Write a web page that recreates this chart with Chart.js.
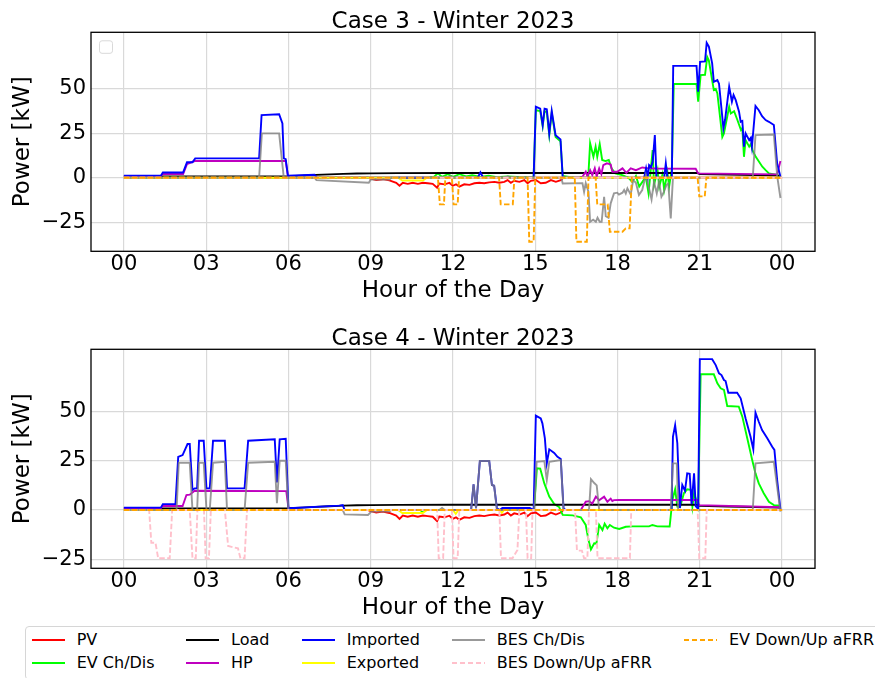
<!DOCTYPE html>
<html>
<head>
<meta charset="utf-8">
<script src="https://cdn.jsdelivr.net/npm/chart.js@4.4.1/dist/chart.umd.min.js"></script>
<style>
  html, body { margin: 0; padding: 0; background: #fff; overflow: hidden; }
  body { width: 875px; height: 678px; position: relative; font-family: "DejaVu Sans", sans-serif; }
  .plot { position: absolute; left: 0; width: 875px; height: 310px; }
  #legend { position: absolute; left: 25px; top: 626px; width: 880px; height: 52px;
            border: 1px solid #d6d6d6; border-radius: 4px; background: #fff; }
  .swatch { position: absolute; width: 33px; height: 2px; }
  .lbl { position: absolute; font-size: 16px; line-height: 20px; color: #000; white-space: nowrap; }
</style>
</head>
<body>
<div class="plot" style="top:0px"><canvas id="case3" width="875" height="310"></canvas></div>
<div class="plot" style="top:317px"><canvas id="case4" width="875" height="310"></canvas></div>
<div id="legend"></div>
<script>
// hour of day [h] and power [kW] pairs
var hourTicks = [0, 3, 6, 9, 12, 15, 18, 21, 24];
var hourLabels = ["00", "03", "06", "09", "12", "15", "18", "21", "00"];
var powerTicks = [-25, 0, 25, 50];

var names = ["PV", "EV Ch/Dis", "Load", "HP", "Imported", "Exported", "BES Ch/Dis", "BES Down/Up aFRR", "EV Down/Up aFRR"];
var colors = ["#ff0000", "#00ff00", "#000000", "#bf00bf", "#0000ff", "#ffff00", "rgba(128,128,128,0.8)", "#ffc0cb", "#ffa500"];
var dashed = [false, false, false, false, false, false, false, true, true];

// same PV and load profile for both cases
var pv = [[0,0],[8.9,0],[9.0,-0.5],[9.2,-1.3],[9.44,-0.8],[9.68,-1.5],[9.93,-2.8],[10.05,-4.5],[10.17,-2.8],[10.35,-3.4],[10.53,-2.8],[10.72,-3.4],[10.9,-2.8],[11.08,-3.1],[11.26,-3.4],[11.42,-5.6],[11.5,-3.3],[11.69,-3.7],[11.87,-2.9],[11.99,-4.5],[12.11,-3.7],[12.23,-5],[12.41,-3.7],[12.6,-4],[12.78,-3.1],[12.96,-2.8],[13.14,-3.1],[13.32,-2.6],[13.51,-2.3],[13.69,-2.8],[13.87,-2.3],[13.99,-1.3],[14.11,-2.8],[14.23,-1.7],[14.42,-2.3],[14.6,-1.3],[14.72,-3.1],[14.84,-1.7],[15.02,-1.3],[15.2,-3.1],[15.38,-2.8],[15.57,-1.3],[15.75,-2.3],[15.93,-1.3],[16.02,0],[24,0]];
var load = [[0,0.8],[6,0.9],[6.5,1.2],[7,1.6],[7.5,1.9],[8,2.2],[8.5,2.4],[9,2.5],[10,2.6],[12,2.7],[20.9,2.7],[21,2.1],[22,1.8],[23,1.5],[23.9,1.2]];

// Case 3
var ev3 = [[0,0],[11.0,0],[11.3,0.5],[11.45,2.5],[11.6,0.5],[11.81,2],[12.0,0.5],[12.23,2],[12.48,0.8],[12.7,1.5],[13.0,0.5],[13.3,1.2],[13.6,0.3],[14.0,0.8],[14.5,0.3],[14.94,0.5],[15.02,38],[15.18,37.5],[15.27,29],[15.34,37.5],[15.42,37],[15.51,24],[15.6,36.5],[15.74,23],[15.92,20.5],[16.0,1],[16.4,0],[16.93,0],[17.0,19.4],[17.12,11.8],[17.2,17.5],[17.26,11.8],[17.35,19],[17.44,10],[17.56,9.4],[17.68,10],[17.78,5.3],[17.92,2.5],[18.17,1.5],[18.4,0],[18.53,-2.2],[18.67,1],[18.79,-5],[19.03,0.5],[19.13,-8.8],[19.28,15.6],[19.33,-4],[19.46,4.3],[19.52,-5],[19.64,2],[19.7,-6.9],[19.82,3],[19.88,-5],[19.98,5],[20.05,52.8],[20.88,52.8],[20.94,42.8],[21.03,57.8],[21.19,58],[21.27,68],[21.33,66],[21.51,49.4],[21.58,50],[21.64,47.5],[21.82,23],[21.88,25],[22.07,40],[22.13,36.2],[22.25,37.5],[22.37,32.5],[22.5,26.9],[22.55,28],[22.61,11.8],[22.67,21.2],[22.8,17.5],[22.86,19],[22.92,15.6],[23.04,11.8],[23.16,9],[23.28,6.2],[23.4,4.3],[23.52,2.5],[23.77,1.8],[23.95,0.6]];
var hp3 = [[0,1],[1.35,1],[1.42,2.1],[2.16,2.1],[2.3,7.7],[2.58,9.4],[5.9,9.4],[5.98,1],[6.1,0],[16.6,0],[16.72,0.6],[16.84,3.4],[16.9,0.8],[17.0,4.3],[17.08,1.5],[17.17,5.3],[17.24,0.8],[17.33,5.3],[17.41,2],[17.48,7.1],[17.61,8.1],[17.75,7.5],[17.81,3.4],[17.99,3.4],[18.18,5.3],[18.32,2.8],[18.48,5.3],[18.67,4.3],[18.9,5.8],[19.15,5.3],[19.39,5.2],[20.85,5.1],[20.94,2.5],[23.82,1.9],[23.94,9.4]];
var imp3 = [[0,1.2],[1.35,1.2],[1.42,3],[2.16,3],[2.3,8.7],[2.5,8.7],[2.6,10.9],[4.93,10.9],[5.02,35.3],[5.66,35.8],[5.78,30.6],[5.83,10.9],[5.9,10.5],[5.98,1.1],[6.95,1.7],[7.05,0],[12.9,0],[13.0,3],[13.1,0],[14.94,0],[15.02,40],[15.18,38.9],[15.27,29.7],[15.34,38.9],[15.42,38.6],[15.51,25],[15.6,37.7],[15.74,24],[15.92,21.6],[16.0,0.5],[16.1,0],[18.97,0],[19.04,5.3],[19.1,0],[19.15,7.1],[19.22,6],[19.28,9],[19.36,24],[19.42,0],[19.7,0],[19.76,8.1],[19.82,0],[19.98,0],[20.03,63],[20.88,63],[20.94,48.4],[21.01,65.3],[21.19,65.5],[21.25,76],[21.33,73.8],[21.45,64.4],[21.51,54],[21.64,55],[21.7,53],[21.86,27.8],[21.92,32.5],[22.07,51.2],[22.17,42.8],[22.23,46.6],[22.31,43.7],[22.43,37.2],[22.49,31.5],[22.55,32],[22.61,17.5],[22.67,25],[22.8,21.2],[22.86,22.5],[22.9,17.5],[23.03,40.4],[23.15,38],[23.27,34.7],[23.4,32.5],[23.52,31.5],[23.7,29.7],[23.82,8],[23.94,0.6]];
var exp3 = [[0,0],[10.0,0],[10.15,-1.5],[10.9,-1.5],[11.05,0],[24,0]];
var bes3 = [[0,0],[4.93,0],[5.03,25],[5.66,25],[5.83,0],[6.95,0],[7.02,-1.3],[8.93,-2.8],[9.0,-1],[9.68,-1],[9.75,0],[11.8,0],[11.9,1],[12.0,0],[13.9,0],[14.0,0.8],[14.1,0],[15.95,0],[16.0,-3.2],[16.72,-3.0],[16.78,-7.9],[16.84,-3],[16.94,-7.9],[17.0,-24.8],[17.11,-23.6],[17.21,-24.8],[17.27,-22.5],[17.35,-24.8],[17.42,-24.8],[17.51,-10.7],[17.57,-21.6],[17.67,-22.5],[17.75,-14.4],[17.87,-8.8],[17.99,-8.4],[18.05,-9.5],[18.18,-8.4],[18.24,-6.9],[18.3,-8.8],[18.36,-6],[18.48,-9.5],[18.57,-1.3],[18.67,-2.8],[18.78,-9.7],[18.9,-6.9],[19.03,1.5],[19.12,-4.1],[19.24,-12.2],[19.33,-2.2],[19.43,-8.8],[19.51,-2.2],[19.6,-10.7],[19.69,-7.9],[19.78,-4.1],[19.85,-3.2],[19.94,-22.9],[20.02,0],[22.93,0],[23.03,24],[23.7,24.4],[23.82,1],[23.94,-11.4]];
var bfr3 = [[0,0],[24,0]];
var efr3 = [[0,0],[11.45,0],[11.52,-15],[11.67,-15],[11.72,0],[11.96,0],[12.02,-15],[12.17,-15],[12.22,0],[13.68,0],[13.74,-15],[14.18,-15],[14.24,0],[14.72,0],[14.78,-36],[14.94,-36],[15.0,0],[16.44,0],[16.5,-36],[16.88,-36],[16.94,0],[17.2,0],[17.26,-15],[17.64,-15],[17.72,-30.4],[18.18,-30.4],[18.3,-28.5],[18.44,-28.5],[18.52,0],[20.92,0],[20.98,-10.5],[21.18,-10.5],[21.24,0],[24,0]];

// Case 4
var ev4 = [[0,0],[10.8,0],[10.9,-1],[11.0,0],[14.95,0],[15.06,21.2],[15.18,21],[15.33,13.5],[15.51,6.8],[15.69,3],[15.87,1.5],[16.0,-2.5],[16.36,-2.7],[16.66,-3.7],[16.84,-7.6],[16.94,-15.2],[17.03,-20],[17.15,-16.9],[17.23,-17],[17.33,-7.6],[17.45,-10.2],[17.53,-7],[17.63,-9.3],[17.72,-7.6],[17.87,-9],[18.06,-9.6],[18.3,-8.5],[18.54,-8.3],[19.15,-8.3],[19.27,-7.6],[19.45,-8.3],[19.9,-8.4],[20.0,5.1],[20.1,10.5],[20.18,1.7],[20.28,1.5],[20.42,8.5],[20.54,10.5],[20.67,10.2],[20.73,1.7],[20.79,8.5],[20.87,5],[20.94,1.7],[21.03,68.9],[21.51,68.9],[21.64,64.3],[21.76,61.8],[21.88,61],[22.0,52.8],[22.42,52.5],[22.55,47.4],[22.73,36.4],[22.91,25.4],[23.03,18.6],[23.15,13.5],[23.33,8.5],[23.52,4.2],[23.7,2.5],[23.88,2.3],[23.94,0]];
var hp4 = [[0,1],[1.35,1],[1.42,2],[2.14,2],[2.28,7.6],[2.4,7.8],[2.58,9.8],[5.92,9.6],[6.0,1],[6.1,0],[16.66,0],[16.84,4.2],[16.96,4.5],[17.08,3.3],[17.21,6.8],[17.33,5],[17.51,6.8],[17.63,4.2],[17.75,5.8],[17.81,4.6],[17.87,5],[18.06,5.1],[18.54,5.1],[19.76,5.1],[20.91,5.1],[20.97,2.5],[23.94,1.4]];
var imp4 = [[0,1.2],[1.35,1.2],[1.42,3],[1.88,3],[1.98,27],[2.14,27.9],[2.32,33.5],[2.4,33.5],[2.5,10.2],[2.58,11],[2.67,11],[2.74,35.2],[2.91,35.2],[3.01,11],[3.13,11],[3.25,35.2],[3.68,35.2],[3.76,11],[4.4,11],[4.53,35.2],[5.5,35.9],[5.58,14],[5.68,35.9],[5.9,36.2],[6.0,0.9],[7.86,2.2],[7.98,2.5],[8.05,0],[12.66,0],[12.75,13],[12.84,0.9],[12.98,24.9],[13.32,24.9],[13.42,12.7],[13.5,12.3],[13.6,0.9],[13.7,0],[13.8,1],[14.8,1],[14.94,0],[15.02,47.9],[15.2,46.5],[15.26,44],[15.35,36.4],[15.42,23.7],[15.51,30.8],[15.69,29],[15.81,27],[15.93,25.9],[16.03,0.9],[16.1,0],[19.97,0],[20.02,37.2],[20.1,43.1],[20.18,33.9],[20.27,1],[20.36,12.7],[20.46,9.8],[20.54,18.6],[20.63,18.4],[20.7,3],[20.79,18.6],[20.85,2],[20.94,0.5],[21.0,76.6],[21.45,76.6],[21.58,73.6],[21.7,69.4],[21.79,68.5],[21.88,66],[21.94,65.5],[22.04,59.5],[22.36,59.5],[22.49,56.7],[22.67,46.5],[22.85,37.2],[22.95,30.8],[23.03,49.4],[23.15,44.8],[23.27,40.6],[23.46,36.4],[23.64,32.1],[23.72,30.5],[23.82,15.2],[23.94,0.3]];
var exp4 = [[0,0],[10.0,0],[10.15,-1.5],[10.9,-1.5],[11.05,0],[12.0,0],[12.1,-2],[12.2,0],[13.7,0],[13.78,-1.5],[13.86,0],[24,0]];
var bes4 = [[0,0],[1.92,0],[2.0,24],[2.4,24],[2.5,0],[2.67,0],[2.74,24],[2.91,24],[3.01,0],[3.13,0],[3.25,24],[3.68,24.5],[3.76,0],[4.4,0],[4.53,24],[5.5,24.5],[5.58,3.4],[5.68,25],[5.9,25],[6.0,0],[7.98,0],[8.05,-2.2],[8.9,-2.5],[9.02,-0.8],[9.68,-0.8],[9.75,0],[11.5,0],[11.6,1],[11.7,0],[12.66,0],[12.75,13],[12.84,0.9],[12.98,24.9],[13.32,24.9],[13.42,12.7],[13.5,12.3],[13.6,0],[14.96,0],[15.05,24.5],[15.33,24.9],[15.42,15.2],[15.51,24.5],[15.93,25.4],[16.03,0],[16.96,0],[17.03,15.7],[17.15,13.7],[17.24,12.5],[17.33,0],[19.94,0],[20.02,23.7],[20.16,23.7],[20.21,0],[22.93,0],[23.03,23.7],[23.7,24.5],[23.94,-0.8]];
var bfr4 = [[0,0],[0.92,0],[1.0,-16.6],[1.15,-16.6],[1.25,-24.5],[1.67,-24.5],[1.76,0],[2.4,0],[2.5,-24.5],[2.62,-24.5],[2.68,0],[2.92,0],[2.98,-24.5],[3.1,-24.5],[3.17,0],[3.68,0],[3.8,-18.3],[4.16,-19.5],[4.25,-24.5],[4.4,-24.5],[4.49,0],[11.42,0],[11.48,-24.5],[11.64,-24.5],[11.7,0],[11.96,0],[12.02,-24.5],[12.17,-24.5],[12.23,0],[13.69,0],[13.75,-24.5],[14.17,-24.5],[14.35,-20.3],[14.42,0],[14.66,0],[14.72,-24.5],[14.85,-24.5],[14.9,0],[16.45,0],[16.52,-20.6],[16.7,-20.6],[16.78,-24.5],[16.9,-24.5],[16.96,0],[17.21,0],[17.27,-24.5],[18.45,-24.5],[18.5,0],[20.92,0],[20.98,-24.5],[21.2,-24.5],[21.25,0],[24,0]];
var efr4 = [[0,0],[24,0]];

Chart.defaults.font.family = "'DejaVu Sans', sans-serif";
Chart.defaults.color = "#000";

// panel title centred over the axes, frame on all four spines, optional empty legend box
var framePlugin = {
  id: "frame",
  afterDatasetsDraw: function(chart) {
    var a = chart.chartArea, ctx = chart.ctx, opts = chart.options.plugins.frame;
    ctx.save();
    ctx.strokeStyle = "#000";
    ctx.lineWidth = 1.3;
    ctx.strokeRect(a.left, a.top, a.right - a.left, a.bottom - a.top);
    if (opts.emptyLegend) {
      var x = a.left + 8.5, y = a.top + 8.5, w = 13, h = 12.5, r = 2.5;
      ctx.beginPath();
      ctx.moveTo(x + r, y);
      ctx.arcTo(x + w, y, x + w, y + h, r);
      ctx.arcTo(x + w, y + h, x, y + h, r);
      ctx.arcTo(x, y + h, x, y, r);
      ctx.arcTo(x, y, x + w, y, r);
      ctx.closePath();
      ctx.fillStyle = "rgba(255,255,255,0.8)";
      ctx.fill();
      ctx.strokeStyle = "#d9d9d9";
      ctx.lineWidth = 1;
      ctx.stroke();
    }
    ctx.fillStyle = "#000";
    ctx.font = "23px 'DejaVu Sans'";
    ctx.textAlign = "center";
    ctx.textBaseline = "alphabetic";
    ctx.fillText(opts.title, (a.left + a.right) / 2, a.top - 4.5);
    ctx.restore();
  }
};

function makeChart(id, title, series, yMin, yMax, emptyLegend) {
  var datasets = series.map(function(s, i) {
    return {
      label: names[i],
      data: s.map(function(p) { return { x: p[0], y: p[1] }; }),
      borderColor: colors[i],
      backgroundColor: colors[i],
      borderWidth: 1.9,
      borderDash: dashed[i] ? [5.5, 2.4] : [],
      pointRadius: 0,
      tension: 0,
      fill: false,
      order: -i
    };
  });

  return new Chart(document.getElementById(id), {
    type: "line",
    data: { datasets: datasets },
    options: {
      responsive: false,
      animation: false,
      layout: { padding: { left: 0, right: 60, top: 32.3, bottom: 0 } },
      plugins: {
        legend: { display: false },
        tooltip: { enabled: false },
        title: { display: false },
        frame: { title: title, emptyLegend: emptyLegend }
      },
      scales: {
        x: {
          type: "linear",
          min: -1.2,
          max: 25.2,
          afterBuildTicks: function(s) {
            s.ticks = hourTicks.map(function(v) { return { value: v }; });
          },
          afterFit: function(s) { s.height = 58.7; },
          ticks: {
            font: { size: 21 },
            color: "#000",
            padding: 1,
            maxRotation: 0,
            autoSkip: false,
            callback: function(v) { return hourLabels[hourTicks.indexOf(v)]; }
          },
          grid: { color: "#d9d9d9", lineWidth: 1.2, drawTicks: false },
          border: { display: false },
          title: {
            display: true,
            text: "Hour of the Day",
            font: { size: 23 },
            color: "#000",
            padding: { top: 0, bottom: 5 }
          }
        },
        y: {
          min: yMin,
          max: yMax,
          afterBuildTicks: function(s) {
            s.ticks = powerTicks.map(function(v) { return { value: v }; });
          },
          afterFit: function(s) { s.width = 91; },
          ticks: {
            font: { size: 21 },
            color: "#000",
            padding: 5,
            callback: function(v) { return v < 0 ? "\u2212" + (-v) : String(v); }
          },
          grid: { color: "#d9d9d9", lineWidth: 1.2, drawTicks: false },
          border: { display: false },
          title: {
            display: true,
            text: "Power [kW]",
            font: { size: 23 },
            color: "#000",
            padding: { top: 9, bottom: 0 }
          }
        }
      }
    },
    plugins: [framePlugin]
  });
}

makeChart("case3", "Case 3 - Winter 2023",
  [pv, ev3, load, hp3, imp3, exp3, bes3, bfr3, efr3], -41.4, 81.9, true);
makeChart("case4", "Case 4 - Winter 2023",
  [pv, ev4, load, hp4, imp4, exp4, bes4, bfr4, efr4], -29.6, 81.6, false);

// shared legend below both panels, five columns filled top to bottom
var legendCols = [31.7, 186, 301.7, 451.7, 684];
var legendRows = [640, 663.3];
var legend = document.getElementById("legend");
names.forEach(function(name, i) {
  var x = legendCols[Math.floor(i / 2)] - 26, y = legendRows[i % 2] - 627;
  var sw = document.createElement("div");
  sw.className = "swatch";
  sw.style.left = x + "px";
  sw.style.top = (y - 1) + "px";
  sw.style.background = dashed[i]
    ? "repeating-linear-gradient(to right, " + colors[i] + " 0 5.5px, transparent 5.5px 8px)"
    : colors[i];
  legend.appendChild(sw);
  var t = document.createElement("div");
  t.className = "lbl";
  t.style.left = (x + 45) + "px";
  t.style.top = (y - 10) + "px";
  t.textContent = name;
  legend.appendChild(t);
});
</script>
</body>
</html>
